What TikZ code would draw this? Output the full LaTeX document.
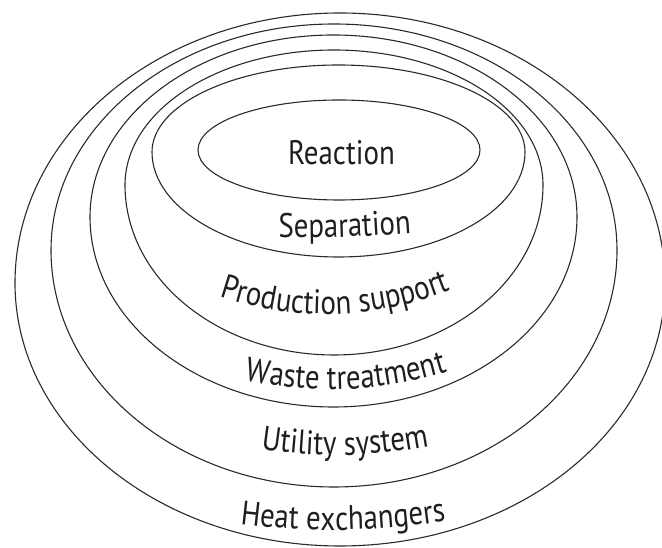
\documentclass[tikz,border=0pt]{standalone}
\usepackage{fontspec}
\usetikzlibrary{decorations.text}
\newfontfamily\lblfam[FakeStretch=0.85]{PT Sans}
\newcommand\lblfont{\lblfam\fontsize{34}{40}\selectfont}
\definecolor{ln}{HTML}{2A2A2A}
\definecolor{txt}{HTML}{1E1E1E}
\tikzset{
  ring/.style={draw=ln, line width=1.1pt},
  curvelabel/.style={decorate, decoration={text along path, text align=center, text color=txt, text={|\lblfont|#1}}},
  flatlabel/.style={font=\lblfont, text=txt, inner sep=0pt, anchor=base}
}
\begin{document}
\begin{tikzpicture}[x=1pt,y=1pt]
\useasboundingbox (0,0) rectangle (662,548);
% egg-shaped rings: (cx+rx, Y) top arc with ryT, bottom arc with ryB
\draw[ring] (665,265) arc[start angle=0,end angle=180,x radius=325pt,y radius=270pt]
                      arc[start angle=180,end angle=360,x radius=325pt,y radius=263pt] -- cycle;
\draw[ring] (617,298) arc[start angle=0,end angle=180,x radius=283pt,y radius=226pt]
                      arc[start angle=180,end angle=360,x radius=283pt,y radius=237pt] -- cycle;
\draw[ring] (577,331) arc[start angle=0,end angle=180,x radius=243.5pt,y radius=182pt]
                      arc[start angle=180,end angle=360,x radius=243.5pt,y radius=190pt] -- cycle;
\draw[ring] (543,363) arc[start angle=0,end angle=180,x radius=209pt,y radius=135pt]
                      arc[start angle=180,end angle=360,x radius=209pt,y radius=170pt] -- cycle;
\draw[ring] (525,396) arc[start angle=0,end angle=180,x radius=186.5pt,y radius=87pt]
                      arc[start angle=180,end angle=360,x radius=186.5pt,y radius=105pt] -- cycle;
\draw[ring] (480,398) arc[start angle=0,end angle=360,x radius=141pt,y radius=50pt];
% labels
\node[flatlabel] (reaction) at (341.5,383) {Reaction};
\path[curvelabel={Separation}] (262,310) .. controls (345,310.5) .. (428,316);
\path[curvelabel={Production support}] (205,257) .. controls (291.7,224) and (378.3,226.3) .. (465,264);
\path[curvelabel={Waste treatment}] (226,171.8) .. controls (306,151.3) and (386,154.7) .. (466,182);
\path[curvelabel={Utility system}] (235,103.2) .. controls (308.3,88.2) and (381.7,89.6) .. (455,107.4);
\path[curvelabel={Heat exchangers}] (223,25.9) .. controls (303,14.1) and (383,15.4) .. (463,29.6);
\end{tikzpicture}
\end{document}
